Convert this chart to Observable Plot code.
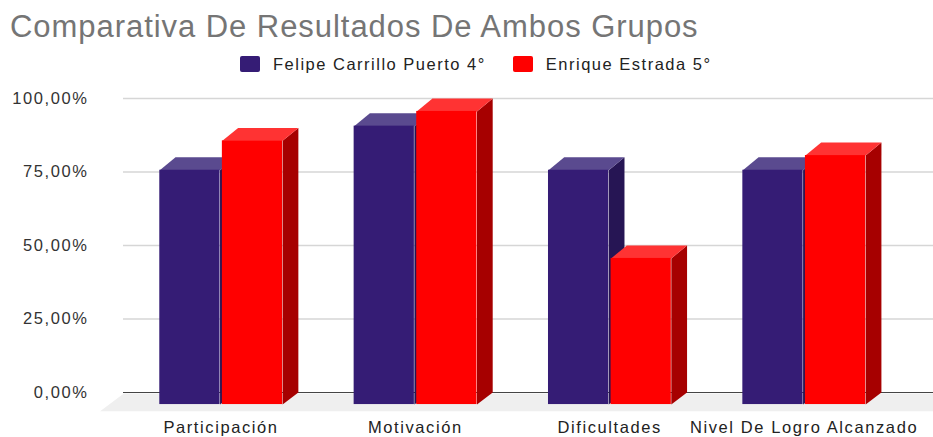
<!DOCTYPE html>
<html><head><meta charset="utf-8">
<script src="https://cdn.jsdelivr.net/npm/d3@7"></script>
<script src="https://cdn.jsdelivr.net/npm/@observablehq/plot@0.6"></script>
<style>
html,body{margin:0;padding:0;background:#fff;overflow:hidden}
body{width:933px;font-family:"Liberation Sans",Arial,sans-serif}
#title{height:48px;line-height:53px;padding-left:10px;font-size:31px;color:#757575;letter-spacing:.95px;white-space:nowrap}
#legend{height:30px;display:flex;align-items:center;font-size:16.5px;color:#222;letter-spacing:1.5px;padding-left:240px;box-sizing:border-box;padding-top:2px}
#legend i{display:inline-block;width:20px;height:16px;border-radius:2px;margin-right:13px}
#legend span{white-space:nowrap;margin-right:27px}
svg{display:block}
</style></head><body>
<div id="title"></div>
<div id="legend"></div>
<div id="chart"></div>
<script>
const titleText = "Comparativa De Resultados De Ambos Grupos";
const categories = ["Participación","Motivación","Dificultades","Nivel De Logro Alcanzado"];
const seriesNames = ["Felipe Carrillo Puerto 4°","Enrique Estrada 5°"];
const felipe = [75,90,75,75];
const enrique = [85,95,45,80];
const yTicks = [0,25,50,75,100];
const colors = {
  front:["#351c75","#ff0000"],
  side:["#261554","#a60000"],
  top:["#5a4a8f","#ff3333"]
};
// 3-D extrusion expressed in scale units
const barW = 0.31, depthX = 0.081, depthY = 4.4, below = 4.1, lift = 0.6;
const offsets = [-0.315, 0.007];

document.getElementById("title").textContent = titleText;
document.getElementById("legend").innerHTML = seriesNames.map((s,i)=>`<i style="background:${colors.front[i]}"></i><span>${s}</span>`).join("");

function faces(values, k){
  const side = [], top = [], front = [];
  values.forEach((value,i)=>{
    const v = value + lift;
    const x0 = i + offsets[k], x1 = x0 + barW;
    front.push({x1:x0,x2:x1,y1:-below,y2:v});
    [[x1,-below],[x1+depthX,0],[x1+depthX,v+depthY],[x1,v]].forEach(([x,y])=>side.push({x,y,z:i}));
    [[x0,v],[x0+depthX,v+depthY],[x1+depthX,v+depthY],[x1,v]].forEach(([x,y])=>top.push({x,y,z:i}));
  });
  return {side,top,front};
}
const floor = [{x:-0.622,y:-6.4},{x:-0.5,y:-0.3},{x:3.666,y:-0.3},{x:3.666,y:-6.4}];
const barMarks = [felipe,enrique].flatMap((vals,k)=>{
  const f = faces(vals,k);
  return [
    Plot.line(f.side,{x:"x",y:"y",z:"z",fill:colors.side[k],stroke:null,curve:"linear-closed"}),
    Plot.line(f.top,{x:"x",y:"y",z:"z",fill:colors.top[k],stroke:null,curve:"linear-closed"}),
    Plot.rect(f.front,{x1:"x1",x2:"x2",y1:"y1",y2:"y2",fill:colors.front[k]})
  ];
});
const plot = Plot.plot({
  width:933,height:359,
  marginLeft:123,marginRight:0,marginTop:20,marginBottom:45,
  style:{background:"#fff",fontFamily:"'Liberation Sans',Arial,sans-serif"},
  x:{type:"linear",domain:[-0.5017,3.666],axis:null},
  y:{type:"linear",domain:[0,100],axis:null},
  marks:[
    Plot.line(floor,{x:"x",y:"y",fill:"#efefef",stroke:null,curve:"linear-closed",clip:false}),
    Plot.ruleY(yTicks.filter(d=>d>0),{stroke:"#d6d6d6",strokeWidth:1.5}),
    Plot.ruleY([0],{stroke:"#444",strokeWidth:1.2}),
    ...barMarks,
    Plot.axisY(yTicks,{anchor:"left",tickSize:0,tickPadding:35,label:null,fontSize:16.5,fill:"#333",
      tickFormat:d=>d3.format(".2f")(d).replace(".",",")+"%"}),
    Plot.axisX([0,1,2,3],{anchor:"bottom",tickSize:0,tickPadding:29,label:null,fontSize:16.5,fill:"#222",
      tickFormat:d=>categories[d]})
  ]
});
document.getElementById("chart").appendChild(plot);
plot.querySelectorAll("text").forEach(t=>t.style.letterSpacing="1.6px");
</script>
</body></html>
